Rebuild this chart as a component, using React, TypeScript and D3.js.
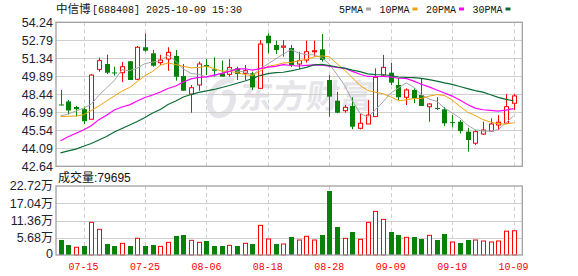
import React from 'react';
import * as d3 from 'd3';

const dates = [
  '07-10','07-11','07-14','07-15','07-16','07-17','07-18','07-21','07-22','07-23',
  '07-24','07-25','07-28','07-29','07-30','07-31','08-01','08-04','08-05','08-06',
  '08-07','08-08','08-11','08-12','08-13','08-14','08-15','08-18','08-19','08-20',
  '08-21','08-22','08-25','08-26','08-27','08-28','08-29','09-01','09-02','09-03',
  '09-04','09-05','09-08','09-09','09-10','09-11','09-12','09-15','09-16','09-17',
  '09-18','09-19','09-22','09-23','09-24','09-25','09-26','09-29','09-30','10-09',
];
const opens = [
  47.62,47.86,47.42,47.24,46.43,50.45,50.88,50.20,50.18,51.10,
  49.65,52.23,51.74,50.99,51.28,51.53,49.91,48.46,49.19,50.80,
  50.45,50.13,50.05,50.53,50.13,50.13,48.92,53.16,52.41,52.23,
  52.17,50.88,51.20,51.87,52.06,49.59,47.93,47.12,47.50,45.70,
  46.05,46.64,49.99,50.18,49.19,48.20,48.79,48.38,47.44,47.34,
  47.23,46.20,46.23,45.43,44.50,45.24,45.48,45.97,46.11,47.72,
];
const highs = [
  48.79,47.98,47.50,47.45,50.07,51.39,51.63,50.66,51.04,51.12,
  52.33,53.35,52.01,51.63,52.23,52.01,50.88,49.19,51.07,51.28,
  51.42,51.15,51.28,50.66,50.80,50.26,52.81,53.35,52.76,52.81,
  52.41,51.87,52.76,52.76,53.30,49.99,48.65,47.58,48.20,46.85,
  47.98,50.53,51.60,50.99,49.75,48.92,48.92,49.73,47.72,48.20,
  47.40,46.77,46.37,45.75,45.56,46.23,46.51,46.77,48.46,48.46,
];
const lows = [
  47.55,46.83,46.64,46.05,46.43,50.26,50.07,49.94,49.43,49.59,
  49.59,51.87,50.66,50.80,50.34,49.54,48.73,46.96,48.73,49.99,
  49.86,49.86,49.86,49.59,49.59,48.79,48.92,51.74,51.69,51.47,
  50.64,50.45,50.99,51.47,51.07,46.64,46.91,46.96,45.62,45.62,
  46.05,46.64,49.86,49.19,47.98,47.58,47.72,47.50,46.23,47.18,
  45.89,45.78,45.29,43.82,44.36,45.16,45.43,45.56,46.11,47.18,
];
const closes = [
  47.55,47.14,47.24,46.27,49.99,51.15,50.18,50.13,50.66,49.59,
  52.23,51.95,50.74,51.20,51.82,49.86,48.73,48.97,50.88,50.66,
  50.34,49.86,50.61,50.07,50.34,49.00,52.49,52.55,52.01,52.33,
  50.80,51.15,51.87,51.95,51.20,48.25,46.96,47.39,45.83,46.11,
  46.77,49.81,50.61,49.38,48.20,48.79,48.12,47.50,47.66,47.29,
  46.10,46.15,45.48,44.76,45.43,45.56,46.05,46.19,47.44,48.31,
];
// volume in 万 (10k shares)
const volumes = [
  4.94,3.29,2.54,2.96,10.76,8.45,3.62,2.96,3.84,2.96,
  5.49,2.96,3.29,2.85,4.17,6.26,6.59,4.83,4.17,4.61,
  2.96,2.96,3.18,2.96,3.84,3.62,9.77,5.27,3.62,3.62,
  5.93,4.94,6.15,4.94,6.59,21.07,9.22,5.49,7.57,5.16,
  10.76,14.38,11.74,7.57,6.59,5.82,5.93,5.27,6.48,4.94,
  6.91,4.28,3.95,4.94,4.94,4.61,4.28,4.61,7.85,7.9695,
];
// moving-average values before enough in-window history exists
const ma5Lead = [46.69,46.85,47.09,47.33];
const ma10Lead = [46.64,46.67,46.69,46.80,47.13,47.50,47.90,48.30,48.70];
const ma20Lead = [44.70,45.02,45.30,45.56,45.90,46.40,46.76,47.18,47.42,47.59,
  47.90,48.18,48.38,48.62,48.91,49.11,49.43,49.68,49.80];
const ma30Lead = [43.72,43.88,44.02,44.26,44.48,44.76,45.04,45.40,45.69,45.97,
  46.25,46.57,46.93,47.22,47.62,47.90,48.22,48.42,48.59,48.71,
  48.83,48.99,49.15,49.33,49.51,49.71,49.95,50.10,50.18];

const priceTicks = [42.64,44.09,45.54,46.99,48.44,49.89,51.34,52.79,54.24];
const volTicks = [0,5.68,11.36,17.04,22.72];
const dateTicks = ['07-15','07-25','08-06','08-18','08-28','09-09','09-19','10-09'];
const maNames = ['5PMA','10PMA','20PMA','30PMA'];
const maPeriods = [5,10,20,30];
const maLeads = [ma5Lead, ma10Lead, ma20Lead, ma30Lead];
const maColors = ['#a6a6a6','#f2a10a','#ff00ff','#0b6b35'];
const watermarkChars = ['东','方','财','富'];

const RED = '#ff0000';
const GREEN = '#078107';
const GRID = '#cfcfcf';
const WM = '#e5e5e9';
const MONO = "'Liberation Mono','DejaVu Sans Mono',monospace";
const SANS = "'Liberation Sans',Arial,sans-serif";
const CJK = "'Noto Sans CJK SC','Noto Sans',sans-serif";

function movingAvg(n: number, lead: number[]) {
  return closes.map((_, i) => {
    if (i < n - 1) return lead[i];
    const s = d3.sum(closes.slice(i - n + 1, i + 1));
    return s / n;
  });
}

export default function App() {
  const W = 578, H = 276;
  const left = 56, right = 522.3;
  const pTop = 22.3, pBot = 166.3, vTop = 186, vBot = 255;
  const x = d3.scaleLinear().domain([0, dates.length - 1]).range([60.5, 513.6]);
  const y = d3.scaleLinear().domain([42.64, 54.24]).range([pBot, pTop]);
  const yv = d3.scaleLinear().domain([0, 22.72]).range([vBot, vTop]);
  const px = (i: number) => Math.round(x(i)) + 0.5;
  const ln = (v: number) => Math.round(v) + 0.5;

  const mas = maPeriods.map((n, k) => movingAvg(n, maLeads[k]));
  const line = d3.line<number>().x((_, i) => x(i)).y(v => y(v));

  const legendItems: { name: string; color: string; tx: number; sx: number }[] = [];
  let cur = 339;
  maNames.forEach((nm, k) => {
    const tw = nm.length * 6;
    legendItems.push({ name: nm, color: maColors[k], tx: cur, sx: cur + tw + 3 });
    cur = cur + tw + 3 + 5 + 8.5;
  });

  const title = '[688408] 2025-10-09 15:30';
  const lastVol = Math.round(volumes[volumes.length - 1] * 10000);

  return (
    <svg width={W} height={H} style={{ position: 'absolute', left: 0, top: 0, background: '#fff' }}>
      <rect x={0} y={0} width={W} height={H} fill="#fff" />
      {/* header */}
      <text x={56} y={13} fontFamily={CJK} fontSize={11.5} fill="#111">中信博</text>
      <text x={92} y={12.5} fontFamily={MONO} fontSize={11} fill="#111"
        textLength={title.length * 6} lengthAdjust="spacingAndGlyphs">{title}</text>
      {legendItems.map(it => (
        <g key={it.name}>
          <text x={it.tx} y={12.5} fontFamily={MONO} fontSize={11} fill="#111"
            textLength={it.name.length * 6} lengthAdjust="spacingAndGlyphs">{it.name}</text>
          <rect x={it.sx} y={7.5} width={5} height={3} fill={it.color} />
        </g>
      ))}

      {/* watermark */}
      <g>
        <path d="M231 80 C215 81 206 97 211 110 C215 119 228 116 232 104 C235 96 231 91 225 93"
          fill="none" stroke={WM} strokeWidth={6} strokeLinecap="round" />
        {watermarkChars.map((ch, k) => (
          <text key={ch} transform={`translate(${238 + k * 33.5},108) skewX(-8)`} x={0} y={0}
            fontFamily={CJK} fontSize={33} fontWeight={700} fill={WM}>{ch}</text>
        ))}
      </g>

      {/* price grid */}
      {priceTicks.slice(1, -1).map(t => (
        <line key={t} x1={left} x2={right} y1={ln(y(t))} y2={ln(y(t))} stroke={GRID} />
      ))}
      {dateTicks.map(d => {
        const i = dates.indexOf(d);
        return (
          <g key={d}>
            <line x1={px(i)} x2={px(i)} y1={pTop} y2={pBot} stroke={GRID} strokeDasharray="4,3" />
            <line x1={px(i)} x2={px(i)} y1={vTop} y2={vBot} stroke={GRID} strokeDasharray="4,3" />
          </g>
        );
      })}
      {priceTicks.map(t => (
        <text key={t} x={53} y={y(t)} dy="0.35em" textAnchor="end" fontFamily={SANS}
          fontSize={12.5} fill="#1e2230">{t.toFixed(2)}</text>
      ))}

      {/* candles */}
      {closes.map((c, i) => {
        const o = opens[i];
        const up = c > o;
        const col = up ? RED : GREEN;
        const cx = px(i);
        const top = y(Math.max(o, c));
        const bot = y(Math.min(o, c));
        const hgt = Math.max(1, bot - top);
        return (
          <g key={i}>
            <line x1={cx} x2={cx} y1={y(highs[i])} y2={y(lows[i])} stroke={col} strokeWidth={1} />
            {up ? (
              <rect x={cx - 2} y={top} width={4} height={hgt} fill="#fff" stroke={col} strokeWidth={1} />
            ) : (
              <rect x={cx - 2.5} y={top} width={5} height={hgt} fill={col} />
            )}
          </g>
        );
      })}

      {/* moving averages */}
      {mas.map((m, k) => (
        <path key={k} d={line(m) || ''} fill="none" stroke={maColors[k]} strokeWidth={k >= 2 ? 1.2 : 1} />
      ))}

      <rect x={left} y={pTop} width={right - left} height={pBot - pTop} fill="none" stroke="#a0a0a0" strokeWidth={1.3} />

      {/* volume */}
      <text x={58} y={182} fontFamily={CJK} fontSize={12} fill="#111">成交量<tspan fontFamily={SANS}>:{lastVol}</tspan></text>
      {volTicks.slice(1, -1).map(t => (
        <line key={t} x1={left} x2={right} y1={ln(yv(t))} y2={ln(yv(t))} stroke={GRID} />
      ))}
      {volTicks.map(t => (
        <text key={t} x={53} y={t === 0 ? yv(t) - 1.5 : yv(t)} dy="0.35em" textAnchor="end" fontFamily={SANS}
          fontSize={12.5} fill="#1e2230">{t === 0 ? '0' : t.toFixed(2)}{t === 0 ? null : <tspan fontFamily={CJK} fontSize={12}>万</tspan>}</text>
      ))}
      {volumes.map((v, i) => {
        const up = i === 0 ? closes[i] > opens[i] : closes[i] > closes[i - 1];
        const cx = px(i);
        const top = yv(v);
        return up ? (
          <rect key={i} x={cx - 2} y={top} width={4} height={vBot - top} fill="#fff" stroke={RED} strokeWidth={1} />
        ) : (
          <rect key={i} x={cx - 2.5} y={top} width={5} height={vBot - top} fill={GREEN} />
        );
      })}
      <rect x={left} y={vTop} width={right - left} height={vBot - vTop} fill="none" stroke="#a0a0a0" strokeWidth={1.3} />

      {/* x labels */}
      {dateTicks.map(d => {
        const i = dates.indexOf(d);
        return (
          <text key={d} x={x(i) - 15} y={269.5} fontFamily={MONO} fontSize={11} fill={RED}
            textLength={30} lengthAdjust="spacingAndGlyphs">{d}</text>
        );
      })}
    </svg>
  );
}
